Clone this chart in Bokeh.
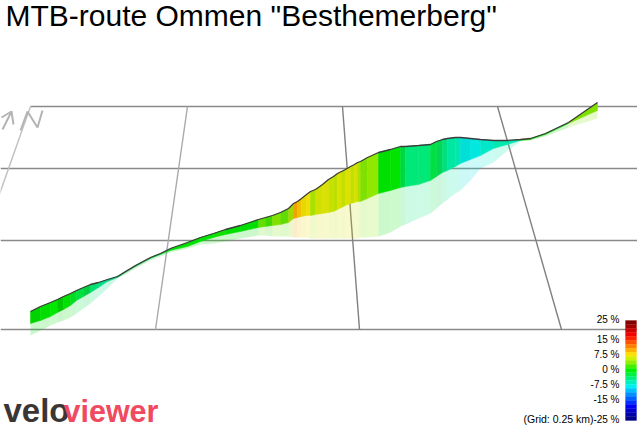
from bokeh.plotting import figure
from bokeh.embed import file_html
from bokeh.resources import INLINE
from bokeh.models import Range1d
from bokeh.core.properties import value

title = 'MTB-route Ommen "Besthemerberg"'

# profile (screen position of the 3D projection)
route_x = [30,40,50,57,63,70,76,83,90,98,107,117,125,135,150,160,170,187,200,213,225,240,258,265,272,280,288,293,297,301,306,310,315,322,328,333,337,341,345,350,354,357,360,367,378,390,400,405,418,430,436,442,447,455,460,470,480,493,507,520,530,545,568,597]
route_top = [311,306,302,299,296,293,290,287,284,282,279,276,271,265,257,253,248,242,237,233,229,225,219,217,215,212,208,203,201,198,194,191,189,184,179,176,173,171,169,166,164,162,161,157,152,149,146,146,145,144,141,139,138,137,137,138,139,140,140,139,138,133,122,102]
route_bot = [323,320,316,312,309,305,300,296,292,287,281,277,272,266,258,254,250,246,241,237,234,231,227,226,225,224,222,218,217,216,215,215,214,213,212,211,209,207,205,203,202,201,201,198,193,190,187,186,184,180,176,172,170,166,163,159,155,148,144,140,139,134,123,110]
shadow_bot = [335,330,325,322,320,317,313,308,303,296,288,278,274,268,260,256,252,248,244,243,241,238,235,235,236,236,236,237,237,237,237,238,238,238,238,238,238,238,238,238,238,238,237,237,236,232,226,224,218,213,208,203,199,193,190,180,168,162,150,141,140,136,127,118]
band_colors = ["#00d400","#00de00","#00e800","#00c800","#00e000","#00dc20","#00e040","#00d040","#00e070","#00e088","#00d080","#00c850","#20b040","#10b840","#00d030","#00d820","#00e000","#00e000","#00e400","#10e000","#00e000","#00e000","#60e000","#40d800","#80e000","#60dc00","#a0d800","#f0a000","#f0c000","#e8d800","#eee000","#a8e000","#d0e000","#dce000","#c8e000","#b8e000","#dce000","#c0e000","#e0e000","#c4e000","#d8e000","#b0e000","#80e000","#90e800","#00e000","#00e400","#00d840","#00e878","#00e878","#00e040","#00d850","#00e080","#00e8a0","#00e8b0","#00e0d8","#00e8e0","#00e8c8","#00e8b0","#00e8b0","#20e000","#10d800","#10d800","#80e000"]

grid_y = [106,168,240,329]
grid_x_far = [30,187,342,497]
grid_x_near = [-49,155,359,561]
grid_colors = ["#c0c0c0","#aaaaaa","#808080","#808080"]

scale_labels = ["25 %","15 %","7.5 %","0 %","-7.5 %","-15 %","-25 %"]
scale_label_y = [318.5,338.5,353.5,368.5,383.5,398.5,418.5]
scale_colors = ["#800000","#a00000","#cc0000","#f00000","#ff2000","#ff5000","#ff8000","#ffb000","#ffe000","#d0f000","#90f000","#40f000","#00f000","#00f040","#00f080","#00f0c0","#00f0f0","#00c0ff","#0090ff","#0060ff","#0030ff","#0000f0","#0000d0","#0000a8","#000088"]

W, H = 637, 427
p = figure(width=W, height=H, x_range=Range1d(0, W), y_range=Range1d(H, 0),
           output_backend="svg", toolbar_location=None, min_border=0,
           outline_line_color=None, background_fill_color="white", border_fill_color="white")
p.xaxis.visible = False
p.yaxis.visible = False
p.xgrid.visible = False
p.ygrid.visible = False

# ground grid
for i, y in enumerate(grid_y):
    x0 = 30 if i == 0 else 0
    p.line([x0, W], [y, y], line_color="#8a8a8a", line_width=1.5)
for xa, xb, c in zip(grid_x_far, grid_x_near, grid_colors):
    p.line([xa, xb], [106, 329], line_color=c, line_width=1.4)

n = len(band_colors)
sx = [[route_x[i], route_x[i+1], route_x[i+1], route_x[i]] for i in range(n)]
p.patches(sx, [[route_bot[i], route_bot[i+1], shadow_bot[i+1], shadow_bot[i]] for i in range(n)],
          fill_color=band_colors, fill_alpha=0.2, line_color=None)
p.patches(sx, [[route_top[i], route_top[i+1], route_bot[i+1], route_bot[i]] for i in range(n)],
          fill_color=band_colors, line_color=band_colors, line_width=0.5)
p.line(route_x, route_top, line_color="#3c3c3c", line_width=1.3)

# north arrow
ac = "#b4b4b4"
p.line([2,11], [129,111], line_color=ac, line_width=2)
p.line([1,11,13], [117,111,124], line_color=ac, line_width=2)
p.line([20,27,37,42], [130,111,127,110], line_color=ac, line_width=2)

# title, logo
p.text([5], [15], text=[title], text_font=value("Liberation Sans"), text_font_size="30px",
       text_color="black", text_baseline="middle")
p.text([3], [410], text=["velo"], text_font=value("Liberation Sans"), text_font_style="bold",
       text_font_size="33px", text_color="#3b3636", text_baseline="middle")
p.text([63], [410], text=["viewer"], text_font=value("Liberation Sans"), text_font_style="bold",
       text_font_size="30.5px", text_color="#f04a60", text_baseline="middle")

# gradient scale
m = len(scale_colors)
step = 100 / m
p.quad(left=[625]*m, right=[636]*m,
       top=[320+i*step for i in range(m)], bottom=[320+(i+1)*step for i in range(m)],
       fill_color=scale_colors, line_color=scale_colors, line_width=0.3)
p.text([619]*len(scale_labels), scale_label_y, text=scale_labels,
       text_font=value("Liberation Sans"), text_font_size="10px", text_color="#000000",
       text_align="right", text_baseline="middle")
p.text([593], [418.5], text=["(Grid: 0.25 km)"], text_font=value("Liberation Sans"),
       text_font_size="10.5px", text_color="#000000", text_align="right", text_baseline="middle")

open("out.html", "w").write(file_html(p, INLINE))
